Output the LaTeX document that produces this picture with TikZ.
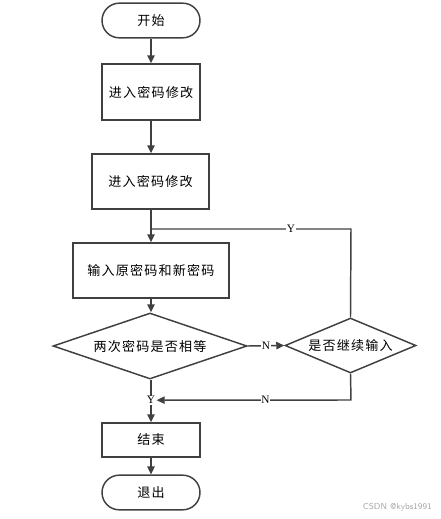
\documentclass[tikz,border=0pt]{standalone}
\usepackage{fontspec}
\setmainfont{Liberation Serif}
\newfontfamily\cjk[LetterSpace=9]{Noto Sans CJK SC}
\usetikzlibrary{shapes.geometric,arrows.meta}
\definecolor{ln}{HTML}{404040}
\tikzset{
  px/.style={x=0.75pt,y=-0.75pt},
  base/.style={draw=ln,line width=1.1pt,font=\cjk\fontsize{9.8}{11}\selectfont,inner sep=0pt,anchor=center},
  term/.style={base,minimum width=73.5pt,minimum height=26pt,rounded corners=13pt},
  proc/.style={base,rectangle},
  dec/.style={base,diamond,aspect=2.9},
  conn/.style={draw=ln,line width=1.1pt,-{Triangle[length=6pt,width=5.5pt]}},
  plain/.style={draw=ln,line width=1.1pt},
  lab/.style={fill=white,inner sep=0.6pt,font=\fontsize{8.5}{10}\selectfont}
}
\begin{document}
\begin{tikzpicture}[px]
\useasboundingbox (0,0) rectangle (441,519);
\node[term] (start) at (151,20.5) {开始};
\node[proc,minimum width=73.5pt,minimum height=42pt] (b1) at (151,92) {进入密码修改};
\node[proc,minimum width=87.75pt,minimum height=41.25pt] (b2) at (150.5,181.5) {进入密码修改};
\node[proc,minimum width=117pt,minimum height=41.25pt] (b3) at (151,270.5) {输入原密码和新密码};
\node[dec,minimum width=145.5pt,minimum height=49.5pt] (d1) at (150,346) {两次密码是否相等};
\node[dec,minimum width=98.25pt,minimum height=41.25pt] (d2) at (350.5,345.5) {是否继续输入};
\node[proc,minimum width=73.5pt,minimum height=25.5pt] (end) at (151,440) {结束};
\node[term] (quit) at (151,492.5) {退出};
\coordinate (join) at (151,229);
\coordinate (tr) at (351,229);
\coordinate (br) at (351,400);

\draw[conn] (start.south -| join) -- (b1.north -| join);
\draw[conn] (b1.south -| join) -- (b2.north -| join);
\draw[conn] (b2.south -| join) -- (b3.north -| join);
\draw[conn] (b3.south -| join) -- (d1.north -| join);
\draw[conn] (d1.east) -- node[lab] {N} (d2.west);
\draw[conn] (d1.south -| join) -- node[lab,pos=0.48] (ylab) {Y} (end.north -| join);
\draw[plain] (d2.north) -- (tr) -- node[lab,pos=0.3] {Y} (join);
\draw[conn] (d2.south) -- (br) -- node[lab,pos=0.44] {N} (ylab.east);
\draw[conn] (end.south -| join) -- (quit.north -| join);
\node[anchor=east,text=black!35,font=\sffamily\fontsize{6.5}{8}\selectfont,inner sep=0pt] (wm) at (432,507) {CSDN @kybs1991};
\end{tikzpicture}
\end{document}
